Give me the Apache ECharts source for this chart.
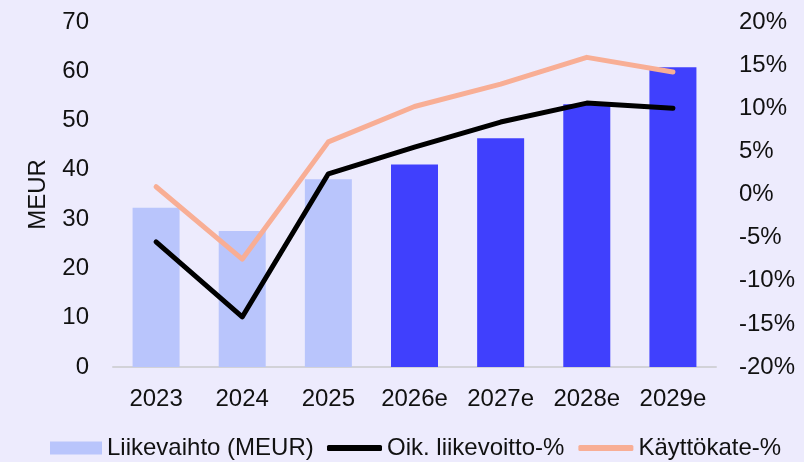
<!DOCTYPE html>
<html>
<head>
<meta charset="utf-8">
<script src="https://cdn.jsdelivr.net/npm/echarts@6/dist/echarts.min.js"></script>
<style>
  html, body { margin: 0; padding: 0; background: #edebfd; }
  #chart { width: 804px; height: 462px; }
</style>
</head>
<body>
<div id="chart"></div>
<script>
// data
const years = ['2023', '2024', '2025', '2026e', '2027e', '2028e', '2029e']
const revenue = [32.3, 27.6, 38.1, 41.1, 46.4, 53.3, 60.8]
const ebitPct = [-5.5, -14.2, 2.4, 5.5, 8.4, 10.6, 10.0]
const ebitdaPct = [0.9, -7.5, 6.1, 10.2, 12.8, 15.9, 14.2]
const forecastFrom = 3 // index of first estimate year

const lightBar = '#b9c5fc'
const darkBar = '#4040fd'
const pink = '#f8ae95'
const font = 'Liberation Sans'
const legendText = { fontSize: 24, color: '#111', fontFamily: font }

const chart = echarts.init(document.getElementById('chart'))

const option = {
  backgroundColor: '#edebfd',
  textStyle: { fontFamily: font },
  grid: { left: 113, right: 88, top: 22, bottom: 95 },
  legend: [
    {
      left: 50,
      top: 436,
      padding: 0,
      itemWidth: 52,
      itemHeight: 13,
      icon: 'rect',
      textStyle: legendText,
      data: [{ name: 'Liikevaihto (MEUR)', itemStyle: { color: lightBar } }]
    },
    {
      left: 327,
      top: 436,
      padding: 0,
      itemGap: 14,
      itemWidth: 55,
      itemHeight: 6,
      icon: 'roundRect',
      textStyle: legendText,
      data: ['Oik. liikevoitto-%', 'Käyttökate-%']
    }
  ],
  xAxis: {
    type: 'category',
    data: years,
    axisLine: { lineStyle: { color: '#d2d2d8', width: 2 } },
    axisTick: { show: false },
    axisLabel: { fontSize: 24, color: '#111', margin: 20, interval: 0 }
  },
  yAxis: [
    {
      type: 'value',
      min: 0,
      max: 70,
      interval: 10,
      name: 'MEUR',
      nameLocation: 'middle',
      nameGap: 63,
      nameTextStyle: { fontSize: 24, color: '#111' },
      splitLine: { show: false },
      axisLine: { show: false },
      axisLabel: { fontSize: 24, color: '#111', margin: 24 }
    },
    {
      type: 'value',
      min: -20,
      max: 20,
      interval: 5,
      splitLine: { show: false },
      axisLine: { show: false },
      axisLabel: { fontSize: 24, color: '#111', margin: 23, formatter: '{value}%' }
    }
  ],
  series: [
    {
      name: 'Liikevaihto (MEUR)',
      type: 'bar',
      barWidth: 47,
      itemStyle: { color: lightBar },
      data: revenue.map((v, i) => ({
        value: v,
        itemStyle: { color: i >= forecastFrom ? darkBar : lightBar }
      }))
    },
    {
      name: 'Oik. liikevoitto-%',
      type: 'line',
      yAxisIndex: 1,
      symbol: 'none',
      itemStyle: { color: '#000' },
      lineStyle: { color: '#000', width: 5, cap: 'round', join: 'round' },
      data: ebitPct
    },
    {
      name: 'Käyttökate-%',
      type: 'line',
      yAxisIndex: 1,
      symbol: 'none',
      itemStyle: { color: pink },
      lineStyle: { color: pink, width: 5, cap: 'round', join: 'round' },
      data: ebitdaPct
    }
  ]
}

chart.setOption(option)
</script>
</body>
</html>
